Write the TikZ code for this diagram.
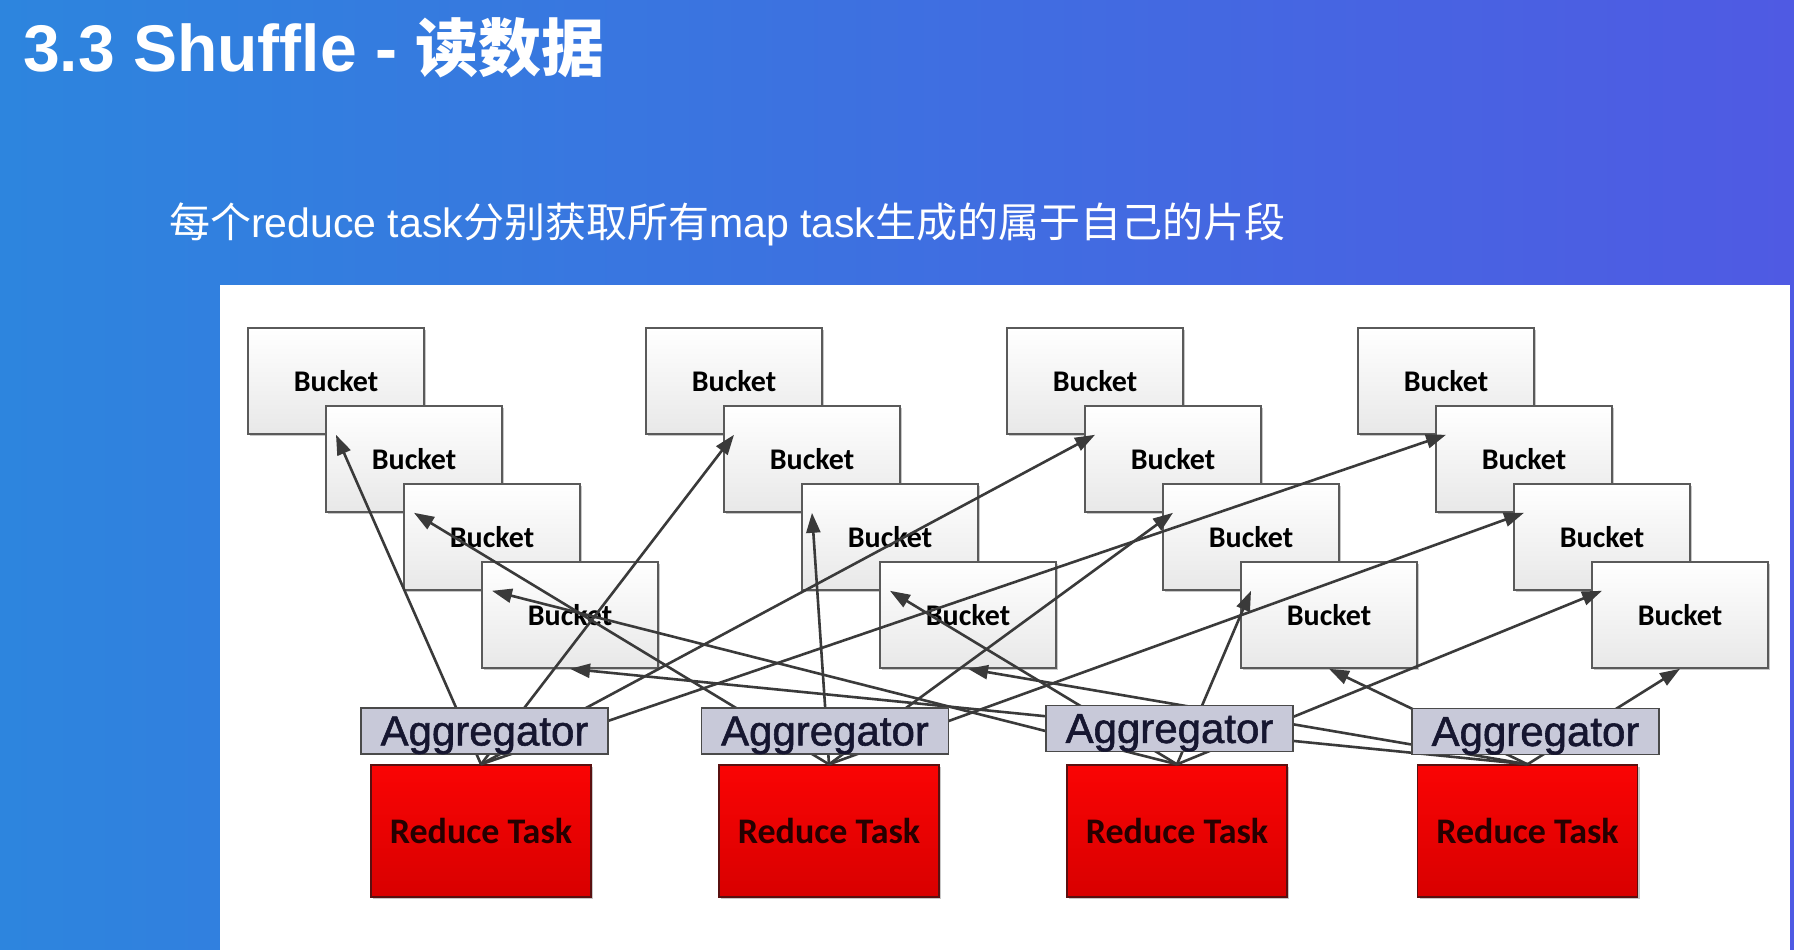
\documentclass[tikz,border=0pt]{standalone}
\usepackage{fontspec}
\setmainfont{Liberation Sans}
\newfontfamily\cjkfont{Noto Sans CJK SC}
\newfontfamily\calfont{Carlito}
\newfontfamily\aggfont[RawFeature={embolden=1.3}]{Liberation Sans}
\usetikzlibrary{arrows.meta,shadows}
\definecolor{bgL}{HTML}{2D85DE}
\definecolor{bgR}{HTML}{4F5AE3}
\definecolor{bucketline}{HTML}{5A5A5A}
\definecolor{aggfill}{HTML}{C8C9D9}
\definecolor{aggline}{HTML}{4A4A4A}
\definecolor{aggtext}{HTML}{161630}
\definecolor{redtop}{HTML}{FA0404}
\definecolor{redbot}{HTML}{D80000}
\definecolor{redline}{HTML}{5A1010}
\definecolor{redtext}{HTML}{260000}
\definecolor{arrowc}{HTML}{3A3A3A}
\begin{document}
\begin{tikzpicture}[x=1pt,y=-1pt,
  bucketbox/.style={draw=bucketline, line width=1.6pt, top color=white, bottom color=black!9,
    minimum width=176pt, minimum height=106pt, inner sep=0pt,
    font=\calfont\bfseries\fontsize{30}{36}\selectfont, text depth=0pt,
    drop shadow={shadow xshift=2pt, shadow yshift=-2pt, opacity=0.22, fill=black}},
  aggbox/.style={draw=aggline, line width=1.6pt, fill=aggfill,
    minimum width=247pt, minimum height=46pt, inner sep=0pt,
    font=\aggfont\fontsize{42}{46}\selectfont, text=aggtext, text depth=0pt},
  redbox/.style={draw=redline, line width=1.4pt, top color=redtop, bottom color=redbot,
    minimum width=220pt, minimum height=132pt, inner sep=0pt,
    font=\calfont\bfseries\fontsize{36}{40}\selectfont, text=redtext, text depth=0pt,
    drop shadow={shadow xshift=2pt, shadow yshift=-2pt, opacity=0.22, fill=black}},
  arr/.style={draw=arrowc, line width=2.6pt, -{Triangle[length=20pt,width=14pt]}},
  heading/.style={anchor=base west, inner sep=0pt, text=white}]
\useasboundingbox (0,0) rectangle (1794,950);
\fill[left color=bgL, right color=bgR] (0,0) rectangle (1794,950);
\fill[white] (220,285) rectangle (1790,950);
% title and subtitle
\node[heading] (title) at (23,72) {\fontsize{66}{70}\selectfont\bfseries 3.3 Shuffle - {\cjkfont\fontsize{63}{70}\selectfont 读数据}};
\node[heading] (sub) at (169,237) {\fontsize{41}{48}\selectfont{\cjkfont 每个}reduce task{\cjkfont 分别获取所有}map task{\cjkfont 生成的属于自己的片段}};
% buckets
\foreach \c/\X in {1/248,2/646,3/1007,4/1358}{
  \foreach \r in {1,2,3,4}{
    \node[bucketbox] (b\c\r) at ({\X+88+78*(\r-1)},{381+78*(\r-1)}) {Bucket};
  }
}
% reduce tasks
\node[redbox] (r1) at (481,831) {Reduce Task};
\node[redbox] (r2) at (829,831) {Reduce Task};
\node[redbox] (r3) at (1177,831) {Reduce Task};
\node[redbox] (r4) at (1527.5,831) {Reduce Task};
% fetch arrows
\foreach \j in {1,2,3,4}{
  \foreach \c in {1,2,3,4}{
    \draw[arr] (r\j.north) -- (b\c\j.south);
  }
}
% aggregators
\node[aggbox] (a1) at (484.5,731) {Aggregator};
\node[aggbox] (a2) at (825,731) {Aggregator};
\node[aggbox] (a3) at (1169.5,728.5) {Aggregator};
\node[aggbox] (a4) at (1535.5,731.5) {Aggregator};
\end{tikzpicture}
\end{document}
